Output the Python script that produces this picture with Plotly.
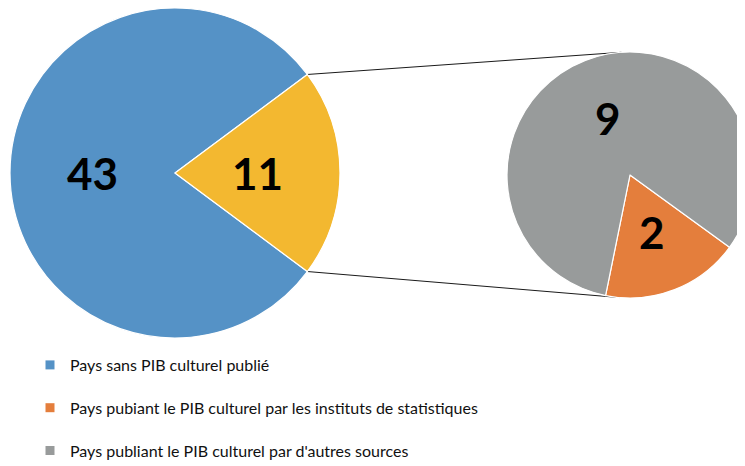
import math
import plotly.graph_objects as go

# ---- data ----
main_labels = ["Pays sans PIB culturel publié", "Pays publiant le PIB culturel"]
main_values = [43, 11]
sub_labels = ["Pays pubiant le PIB culturel par les instituts de statistiques",
              "Pays publiant le PIB culturel par d'autres sources"]
sub_values = [2, 9]
legend_labels = ["Pays sans PIB culturel publié",
                 "Pays pubiant le PIB culturel par les instituts de statistiques",
                 "Pays publiant le PIB culturel par d'autres sources"]

# ---- styles ----
W, H = 745, 466
OFF = 8  # page body margin
C_BLUE, C_YEL, C_ORA, C_GRY = "#5592C6", "#F3B830", "#E47E3C", "#989B9B"
main_colors = [C_BLUE, C_YEL]
sub_colors = [C_ORA, C_GRY]
legend_colors = [C_BLUE, C_ORA, C_GRY]

# geometry in figure pixels (centre, radius)
L_R = 165
L_CX, L_CY = 175 - OFF, 173 - OFF
R_R = 123
R_CX, R_CY = W - R_R, 175 - OFF


def dom(cx, cy, r):
    return dict(x=[max(0, (cx - r) / W), min(1, (cx + r) / W)],
                y=[max(0, 1 - (cy + r) / H), min(1, 1 - (cy - r) / H)])


tot_main = sum(main_values)
half_yel = main_values[1] / tot_main * 180.0
rot_main = 90 + half_yel
rot_sub = 126

num_font = dict(family="Lato, Liberation Sans, sans-serif", size=44, color="black", weight="bold")

fig = go.Figure()
fig.add_trace(go.Pie(labels=main_labels, values=main_values, sort=False, direction="clockwise",
                     rotation=rot_main, marker=dict(colors=main_colors, line=dict(color="white", width=1.2)),
                     textinfo="none", domain=dom(L_CX, L_CY, L_R), showlegend=False, hoverinfo="label+value"))
fig.add_trace(go.Pie(labels=sub_labels, values=sub_values, sort=False, direction="clockwise",
                     rotation=rot_sub, marker=dict(colors=sub_colors, line=dict(color="white", width=1.2)),
                     textinfo="none", domain=dom(R_CX, R_CY, R_R), showlegend=False, hoverinfo="label+value"))

# legend entries
for i, (lab, col) in enumerate(zip(legend_labels, legend_colors)):
    fig.add_trace(go.Scatter(x=[None], y=[None], mode="markers", name=lab, legendgroup=f"g{i}",
                             marker=dict(symbol="square", size=9, color=col), showlegend=True))


def pt(cx, cy, r, ang):
    a = math.radians(ang)
    return cx + r * math.sin(a), cy - r * math.cos(a)


# value labels at half radius along each slice's mid-angle
def add_labels(values, rot, cx, cy, r):
    tot = sum(values)
    start = rot
    for v in values:
        span = v / tot * 360.0
        x, y = pt(cx, cy, r * 0.5, start + span / 2)
        fig.add_annotation(x=x / W, y=1 - y / H, xref="paper", yref="paper", text=str(v),
                           showarrow=False, font=num_font, xanchor="center", yanchor="middle")
        start += span


add_labels(main_values, rot_main, L_CX, L_CY, L_R)
add_labels(sub_values, rot_sub, R_CX, R_CY, R_R)


# connector lines: from the edges of the yellow slice, tangent to the secondary pie
def tangent(px, py, cx, cy, r, upper):
    dx, dy = cx - px, cy - py
    d = math.hypot(dx, dy)
    base = math.atan2(dy, dx)
    off = math.asin(r / d)
    ang = base - off if upper else base + off
    L = math.sqrt(d * d - r * r)
    return px + L * math.cos(ang), py + L * math.sin(ang)


for upper, ang in ((True, 90 - half_yel), (False, 90 + half_yel)):
    x0, y0 = pt(L_CX, L_CY, L_R, ang)
    x1, y1 = tangent(x0, y0, R_CX, R_CY, R_R, upper)
    fig.add_shape(type="line", xref="paper", yref="paper", x0=x0 / W, y0=1 - y0 / H, x1=x1 / W, y1=1 - y1 / H,
                  line=dict(color="#1a1a1a", width=1), layer="below")

fig.update_layout(
    width=W, height=H, margin=dict(l=0, r=0, t=0, b=0, autoexpand=False),
    paper_bgcolor="white", plot_bgcolor="white",
    xaxis=dict(visible=False), yaxis=dict(visible=False),
    legend=dict(x=22 / W, xanchor="left", y=1 - 340 / H, yanchor="top", tracegroupgap=19,
                font=dict(family="Lato, Liberation Sans, sans-serif", size=16, color="#111111"),
                bgcolor="rgba(0,0,0,0)"),
)

fig.write_html("out.html")
